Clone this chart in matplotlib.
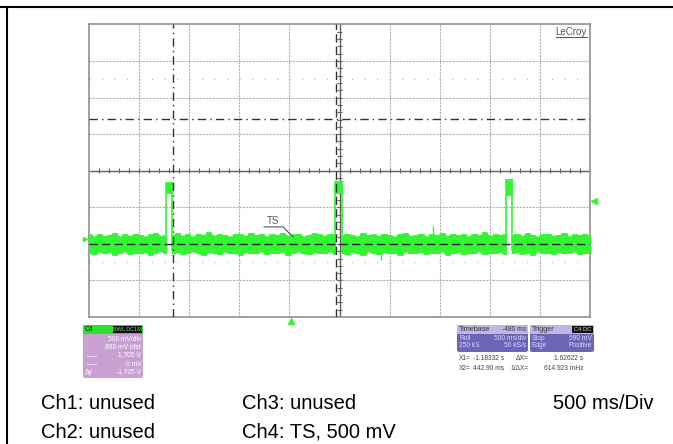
import numpy as np
import matplotlib
matplotlib.use('Agg')
import matplotlib.pyplot as plt
from matplotlib.patches import FancyBboxPatch, Rectangle
from matplotlib.lines import Line2D

plt.rcParams['font.family'] = ['Liberation Sans', 'DejaVu Sans']

W, H = 673, 444

# screen: 10 div x 500 ms, 8 div x 500 mV (Ch4)
t_left, t_right = -2.02, 2.98
v_bottom, v_top = -1.0, 3.0
t_center, v_center = 0.48, 1.0

# TS pulses (s, V)
pulse_start = [-1.252, 0.438, 2.139]
pulse_end = [-1.192, 0.502, 2.199]
pulse_hi = [0.85, 0.86, 0.89]
pulse_lo = [0.69, 0.70, 0.67]

# noise envelope of the idle level, one list per gap between pulses
noise_hi = [
    [0.13, 0.10, 0.14, 0.11, 0.12, 0.15, 0.10, 0.13, 0.11, 0.14, 0.12, 0.10, 0.13, 0.15, 0.11, 0.12],
    [0.12, 0.15, 0.11, 0.13, 0.10, 0.14, 0.12, 0.16, 0.11, 0.13, 0.12, 0.10, 0.14, 0.13, 0.11, 0.15,
     0.12, 0.14, 0.10, 0.13, 0.12, 0.15, 0.11, 0.13, 0.14, 0.10, 0.12, 0.15, 0.13, 0.11, 0.14, 0.12],
    [0.11, 0.14, 0.12, 0.10, 0.15, 0.12, 0.13, 0.11, 0.14, 0.12, 0.10, 0.13, 0.15, 0.11, 0.12, 0.14,
     0.10, 0.13, 0.12, 0.15, 0.11, 0.14, 0.12, 0.13, 0.10, 0.14, 0.12, 0.16, 0.11, 0.13, 0.12, 0.14],
    [0.12, 0.14, 0.11, 0.15, 0.12, 0.10, 0.13, 0.14, 0.11, 0.12, 0.15, 0.10, 0.13, 0.12, 0.14, 0.11],
]
noise_lo = [
    [-0.12, -0.14, -0.10, -0.13, -0.11, -0.15, -0.12, -0.10, -0.14, -0.12, -0.13, -0.11, -0.15, -0.12, -0.10, -0.13],
    [-0.13, -0.11, -0.14, -0.12, -0.10, -0.13, -0.15, -0.11, -0.12, -0.14, -0.10, -0.13, -0.12, -0.15, -0.11, -0.13,
     -0.12, -0.10, -0.14, -0.12, -0.13, -0.11, -0.15, -0.12, -0.10, -0.13, -0.14, -0.11, -0.12, -0.13, -0.10, -0.14],
    [-0.12, -0.14, -0.11, -0.13, -0.15, -0.10, -0.12, -0.14, -0.11, -0.13, -0.12, -0.15, -0.10, -0.13, -0.12, -0.11,
     -0.14, -0.12, -0.13, -0.10, -0.15, -0.12, -0.11, -0.14, -0.13, -0.12, -0.10, -0.14, -0.12, -0.13, -0.11, -0.14],
    [-0.13, -0.11, -0.14, -0.12, -0.15, -0.10, -0.13, -0.12, -0.14, -0.11, -0.13, -0.12, -0.10, -0.14, -0.12, -0.13],
]
spike_t = [-1.19, 0.894, 1.41]
spike_v = [-0.15, -0.22, 0.24]

# cursors / trigger
x1_cursor, x2_cursor = -1.18332, 0.44290
y1_cursor, y2_cursor = 1.705, 0.0
trig_level, trig_time = 0.59, 0.0

ch4_rows = ['500 mV/div', '-890 mV ofst', '1.705 V', '0 mV', '-1.705 V']
tb_rows = [('Roll', '500 ms/div'), ('250 kS', '50 kS/s')]
trig_rows = [('Stop', '590 mV'), ('Edge', 'Positive')]
meas_rows = [('X1=', '-1.18332 s', '\u0394X=', '1.62622 s'),
             ('X2=', '442.90 ms', '1/\u0394X=', '614.923 mHz')]
footer = [('Ch1: unused', 'Ch3: unused', '500 ms/Div'),
          ('Ch2: unused', 'Ch4: TS, 500 mV', '')]

GREEN = '#33f533'
GRID = '#b0b0b0'


def fx(x):
    return x / W


def fy(y):
    return 1 - y / H


fig = plt.figure(figsize=(W / 100, H / 100), dpi=100)
ax = fig.add_axes([fx(89), fy(317), (590 - 89) / W, (317 - 24.5) / H])
ax.set_xlim(t_left, t_right)
ax.set_ylim(v_bottom, v_top)
ax.set_xticks([])
ax.set_yticks([])
for s in ax.spines.values():
    s.set_color('#909090')
    s.set_linewidth(1.2)

# graticule
for k in range(1, 10):
    if k != 5:
        ax.axvline(t_left + 0.5 * k, color=GRID, lw=0.8, ls=(0, (2, 1)), zorder=1)
for j in range(1, 8):
    if j != 4:
        ax.axhline(v_bottom + 0.5 * j, color=GRID, lw=0.8, ls=(0, (2, 1)), zorder=1)
for v in (v_center + 1.25, v_center - 1.25):
    ax.axhline(v, color='#b8b8b8', lw=0.9, ls=(0, (1, 9)), zorder=1)
ax.axhline(v_center, color='#606060', lw=1.0, zorder=1)
ax.axvline(t_center, color='#606060', lw=1.0, zorder=1)
ax.vlines(t_left + 0.1 * np.arange(1, 50), v_center - 0.035, v_center + 0.035,
          color='#606060', lw=0.8, zorder=1)
ax.hlines(v_bottom + 0.1 * np.arange(1, 40), t_center - 0.02, t_center + 0.02,
          color='#606060', lw=0.8, zorder=1)

# Ch4 trace
bounds = [t_left] + [b for pair in zip(pulse_start, pulse_end) for b in pair] + [t_right]
for i in range(len(noise_hi)):
    t = np.linspace(bounds[2 * i], bounds[2 * i + 1], len(noise_hi[i]))
    ax.fill_between(t, noise_lo[i], noise_hi[i], step='mid', color=GREEN, lw=0.5, zorder=3)
    ax.fill_between(t, noise_lo[i], noise_hi[i], color=GREEN, lw=0.5, zorder=3)
for ps, pe, hi, lo in zip(pulse_start, pulse_end, pulse_hi, pulse_lo):
    ax.fill_between([ps, pe], [lo, lo], [hi, hi], color=GREEN, lw=0.6, zorder=3)
    ax.vlines([ps, pe], -0.1, hi, color=GREEN, lw=1.2, zorder=3)
ax.vlines(spike_t, 0, spike_v, color=GREEN, lw=1.0, zorder=3)

# cursors
ax.axvline(x1_cursor, color='#333333', lw=1.0, ls=(0, (6, 3, 1, 3)), zorder=4)
ax.axvline(x2_cursor, color='#333333', lw=1.0, ls=(0, (6, 3)), zorder=4)
ax.axhline(y1_cursor, color='#333333', lw=1.0, ls=(0, (6, 3, 1, 3)), zorder=4)
ax.axhline(y2_cursor, color='#222222', lw=1.0, ls=(0, (6, 3)), zorder=4)

# markers
ax.plot([t_right + 0.04], [trig_level], marker='<', color=GREEN, ms=4, clip_on=False, zorder=5)
ax.plot([trig_time], [v_bottom - 0.05], marker='^', color=GREEN, ms=4, clip_on=False, zorder=5)
ax.plot([t_left - 0.04], [0.07], marker='>', color=GREEN, ms=3, clip_on=False, zorder=5)

# TS label
ax.text(-0.184, 0.314, 'TS', fontsize=7, color='#555555', ha='center', va='center', zorder=5)
ax.plot([-0.273, -0.084, 0.016], [0.232, 0.232, 0.096], color='#555555', lw=0.8, zorder=5)

# LeCroy logo
fig.text(fx(587), fy(32), 'LeCroy', fontsize=7, color='#555555', ha='right', va='center')
fig.add_artist(Line2D([fx(556), fx(587)], [fy(37), fy(37)], color='#555555', lw=0.7))

# page frame
fig.add_artist(Line2D([0, 1], [fy(7), fy(7)], color='black', lw=1.5))
fig.add_artist(Line2D([fx(7), fx(7)], [fy(7), 0], color='black', lw=1.5))


def box(x0, y0, x1, y1, color, z=2):
    p = FancyBboxPatch((fx(x0), fy(y1)), fx(x1) - fx(x0), (y1 - y0) / H,
                       boxstyle='round,pad=0,rounding_size=0.004',
                       transform=fig.transFigure, facecolor=color, edgecolor='none', zorder=z)
    fig.add_artist(p)


def rect(x0, y0, x1, y1, color, z=3):
    fig.add_artist(Rectangle((fx(x0), fy(y1)), fx(x1) - fx(x0), (y1 - y0) / H,
                             transform=fig.transFigure, facecolor=color, edgecolor='none', zorder=z))


SMALL = 4.8

# Ch4 readout
box(83, 325, 143, 378, '#c9a0d2')
rect(83, 325, 143, 334, '#2ee02e')
rect(113, 326, 142, 333, '#111111', z=4)
fig.text(fx(85), fy(329.5), 'C4', fontsize=SMALL, color='black', va='center', zorder=5)
fig.text(fx(127.5), fy(329.5), 'BWL DC1M', fontsize=SMALL - 0.8, color='#7cd87c',
         ha='center', va='center', zorder=5)
for row, y in zip(ch4_rows, [339.5, 347.5, 355.7, 364, 372.7]):
    fig.text(fx(141), fy(y), row, fontsize=SMALL, color='white', ha='right', va='center', zorder=5)
fig.add_artist(Line2D([fx(86), fx(97)], [fy(355.7), fy(355.7)], color='white', lw=0.5,
                      ls=(0, (3, 1, 1, 1)), zorder=5))
fig.add_artist(Line2D([fx(86), fx(97)], [fy(364), fy(364)], color='white', lw=0.5,
                      ls=(0, (3, 1)), zorder=5))
fig.text(fx(85), fy(372.7), '\u0394y', fontsize=SMALL, color='white', va='center', zorder=5)

# Timebase / Trigger readouts
box(457, 325, 528, 352, '#6e64b6')
rect(457, 325, 528, 333.5, '#bdb8e2')
fig.text(fx(459), fy(329.3), 'Timebase', fontsize=SMALL + 0.4, color='#333333', va='center', zorder=5)
fig.text(fx(526), fy(329.3), '-480 ms', fontsize=SMALL, color='#333333', ha='right', va='center', zorder=5)
for (a, b), y in zip(tb_rows, [339, 345.7]):
    fig.text(fx(459), fy(y), a, fontsize=SMALL, color='#dcd6ff', va='center', zorder=5)
    fig.text(fx(526), fy(y), b, fontsize=SMALL, color='#dcd6ff', ha='right', va='center', zorder=5)

box(530, 325, 594, 352, '#6e64b6')
rect(530, 325, 594, 333.5, '#bdb8e2')
rect(572, 326, 593, 333, '#111111', z=4)
fig.text(fx(532), fy(329.3), 'Trigger', fontsize=SMALL + 0.4, color='#333333', va='center', zorder=5)
fig.text(fx(582.5), fy(329.5), 'C4 DC', fontsize=SMALL - 0.6, color='#dddddd',
         ha='center', va='center', zorder=5)
for (a, b), y in zip(trig_rows, [339, 345.7]):
    fig.text(fx(532), fy(y), a, fontsize=SMALL, color='#dcd6ff', va='center', zorder=5)
    fig.text(fx(592), fy(y), b, fontsize=SMALL, color='#dcd6ff', ha='right', va='center', zorder=5)

for (a, b, c, d), y in zip(meas_rows, [358, 369]):
    fig.text(fx(459), fy(y), a, fontsize=SMALL, color='#444444', va='center')
    fig.text(fx(504), fy(y), b, fontsize=SMALL, color='#444444', ha='right', va='center')
    fig.text(fx(529), fy(y), c, fontsize=SMALL, color='#444444', ha='right', va='center')
    fig.text(fx(583), fy(y), d, fontsize=SMALL, color='#444444', ha='right', va='center')

# footer
for (a, b, c), y in zip(footer, [403, 432]):
    fig.text(fx(41), fy(y), a, fontsize=14.5, color='black', va='center')
    fig.text(fx(242), fy(y), b, fontsize=14.5, color='black', va='center')
    fig.text(fx(654), fy(y), c, fontsize=14.5, color='black', ha='right', va='center')

fig.savefig('out.png', dpi=100)
